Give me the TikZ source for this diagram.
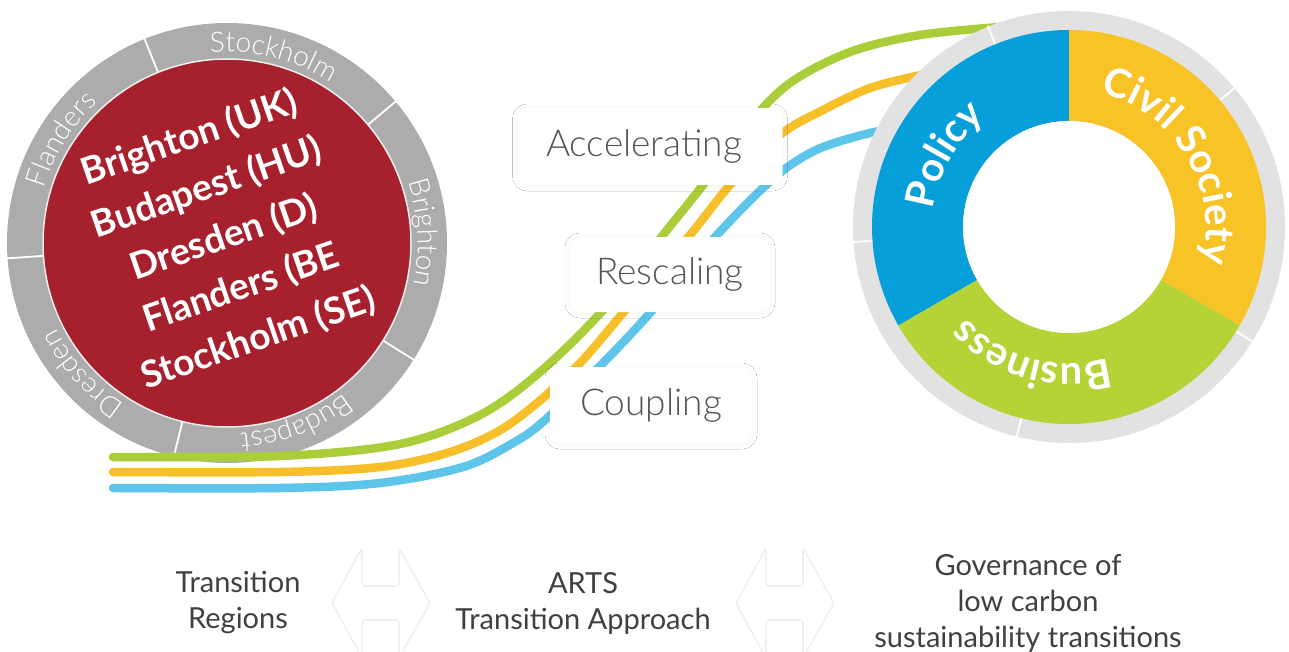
\documentclass[tikz,border=0pt]{standalone}
\usepackage{fontspec}
\setmainfont{Lato}
\newfontfamily\lightfont{Lato Light}
\usetikzlibrary{calc,decorations.text,shadows.blur}
\definecolor{ringred}{HTML}{A6202D}
\definecolor{lgray}{HTML}{ACACAC}
\definecolor{rgray}{HTML}{E2E2E2}
\definecolor{polblue}{HTML}{079FDA}
\definecolor{civyel}{HTML}{F8C326}
\definecolor{busgrn}{HTML}{B5D236}
\definecolor{lngreen}{HTML}{A9CE3A}
\definecolor{lnyellow}{HTML}{F7BF2A}
\definecolor{lnblue}{HTML}{5EC5EA}
\definecolor{txtgray}{HTML}{404040}
\definecolor{boxtext}{HTML}{555555}
\newcommand\ringfont{\color{white}\lightfont\fontsize{28}{30}\selectfont}
\newcommand\segfont{\color{white}\bfseries\fontsize{40}{42}\selectfont}
\newcommand\arctext[4]{%
  \path[decorate,decoration={text along path,text align=center,text={#4}}]
    ($(#1)+({#2+70}:#3)$) arc[start angle=#2+70,end angle=#2-70,radius=#3];}
\begin{document}
\begin{tikzpicture}[x=1pt,y=1pt,
  curve/.style={line width=8.5pt,line cap=round},
  divider/.style={white,line width=1.8pt},
  labelbox/.style={fill=white,rounded corners=10pt,text=boxtext,
    font=\lightfont\fontsize{37}{40}\selectfont,
    blur shadow={shadow xshift=0pt,shadow yshift=-1pt,shadow blur radius=5pt,shadow blur steps=14,shadow opacity=5}},
  bottomtext/.style={align=center,text=txtgray,font=\fontsize{29}{36}\selectfont},
  arrowshape/.style={draw=black!6,line width=1.6pt,rounded corners=3pt}]
\useasboundingbox (0,0) rectangle (1289,-652);
\fill[white] (0,0) rectangle (1289,-652);
\coordinate (L) at (227,-243);
\coordinate (R) at (1069,-227);
% left circle
\fill[lgray] (L) circle[radius=220];
\foreach \a in {112,40,-32,-104,-176}
  \draw[divider] ($(L)+(\a:183)$) -- ($(L)+(\a:221)$);
\filldraw[fill=ringred,draw=white!80!lgray,line width=1.5pt] (L) circle[radius=184];
\arctext{L}{76}{191}{|\ringfont|Stockholm}
\arctext{L}{3}{191}{|\ringfont|Brighton}
\arctext{L}{-69}{191}{|\ringfont|Budapest}
\arctext{L}{-138}{191}{|\ringfont|Dresden}
\arctext{L}{148}{191}{|\ringfont|Flanders}
\node[rotate=19,align=center,text=white,font=\bfseries\fontsize{37}{53}\selectfont] (cities) at (224,-238)
  {Brighton (UK)\\Budapest (HU)\\Dresden (D)\\Flanders (BE\\Stockholm (SE)};
% curves
\draw[curve,lngreen] plot[smooth,tension=0.55] coordinates {(113,-457) (280,-456) (400,-444) (480,-415) (540,-372) (605,-308) (663,-235) (703,-185) (748,-125) (790,-83) (850,-52) (920,-35) (1000,-27)};
\draw[curve,lnyellow] plot[smooth,tension=0.55] coordinates {(113,-472) (280,-472) (380,-467) (447,-453) (497,-432) (537,-403) (580,-363) (623,-313) (690,-235) (730,-185) (780,-135) (823,-110) (873,-87) (935,-72)};
\draw[curve,lnblue] plot[smooth,tension=0.55] coordinates {(113,-488) (280,-488) (380,-483) (463,-467) (513,-443) (545,-420) (603,-363) (650,-313) (717,-235) (765,-186) (792,-164) (823,-147) (870,-133) (900,-128)};
% right ring
\fill[rgray] (R) circle[radius=216];
\foreach \a in {112,40,-32,-104,-176}
  \draw[divider] ($(R)+(\a:196)$) -- ($(R)+(\a:217)$);
\fill[polblue] ($(R)+(90:197)$) arc[start angle=90,end angle=210,radius=197] -- ($(R)+(210:106)$) arc[start angle=210,end angle=90,radius=106] -- cycle;
\fill[civyel] ($(R)+(90:197)$) arc[start angle=90,end angle=-30,radius=197] -- ($(R)+(-30:106)$) arc[start angle=-30,end angle=90,radius=106] -- cycle;
\fill[busgrn] ($(R)+(-30:197)$) arc[start angle=-30,end angle=-150,radius=197] -- ($(R)+(-150:106)$) arc[start angle=-150,end angle=-30,radius=106] -- cycle;
\fill[white] (R) circle[radius=106];
\arctext{R}{150}{137}{|\segfont|Policy}
\arctext{R}{31}{137}{|\segfont|Civil Society}
\arctext{R}{-106}{137}{|\segfont|Business}
% labels
\node[labelbox,minimum width=265pt,minimum height=77pt] (acc) at (650,-146.5) {Accelerating\hspace*{12pt}};
\node[labelbox,minimum width=200pt,minimum height=75pt] (resc) at (670,-274.5) {Rescaling};
\node[labelbox,minimum width=202pt,minimum height=76pt] (coup) at (651,-405) {Coupling};
% bottom
\foreach \cx in {381,785}{
  \begin{scope}[shift={(\cx,0)}]
  \draw[arrowshape] (-49,-603) -- (-19,-548) -- (-19,-586) -- (18,-586) -- (18,-548) -- (49,-603) -- (18,-658) -- (18,-620) -- (-19,-620) -- (-19,-658) -- cycle;
  \end{scope}}
\node[bottomtext] (regions) at (238,-603) {Transition\\Regions};
\node[bottomtext] (arts) at (583,-603) {ARTS\\Transition Approach};
\node[bottomtext] (gov) at (1028,-603) {Governance of\\low carbon\\sustainability transitions};
\end{tikzpicture}
\end{document}
